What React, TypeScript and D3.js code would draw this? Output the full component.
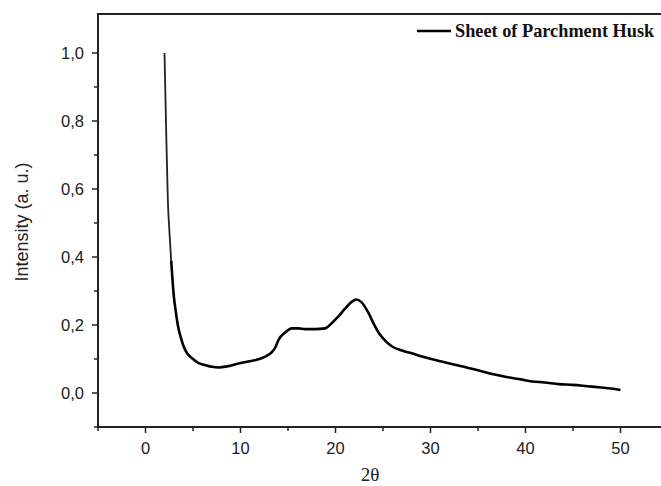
import React from "react";
import * as d3 from "d3";

const twoTheta = [2.0, 2.1, 2.17, 2.35, 2.55, 2.7, 2.85, 3.0, 3.16, 3.4, 3.7, 4.03, 4.35, 4.9, 5.6, 6.3, 7.0, 7.7, 8.7, 9.8, 10.7, 11.6, 12.6, 13.3, 13.7, 14.0, 14.7, 15.4, 16.1, 16.8, 17.8, 18.9, 19.6, 20.3, 21.0, 21.7, 22.2, 22.7, 23.5, 24.0, 24.6, 25.3, 26.0, 27.0, 28.1, 29.3, 30.5, 32.0, 33.5, 35.0, 36.5, 38.0, 39.5, 40.7, 42.0, 43.5, 45.0, 46.5, 48.0, 49.0, 50.0];
const intensity = [1.0, 0.87, 0.78, 0.57, 0.46, 0.39, 0.33, 0.28, 0.245, 0.2, 0.165, 0.136, 0.118, 0.102, 0.088, 0.082, 0.077, 0.075, 0.079, 0.087, 0.092, 0.097, 0.107, 0.12, 0.136, 0.156, 0.178, 0.19, 0.19, 0.188, 0.188, 0.19, 0.205, 0.225, 0.248, 0.268, 0.275, 0.268, 0.234, 0.205, 0.175, 0.152, 0.136, 0.125, 0.116, 0.106, 0.097, 0.087, 0.077, 0.067, 0.056, 0.047, 0.04, 0.034, 0.031, 0.026, 0.024, 0.02, 0.016, 0.013, 0.009];

const xTicks = [0, 10, 20, 30, 40, 50];
const xMinor = [-5, 5, 15, 25, 35, 45];
const yTicks = [0, 0.2, 0.4, 0.6, 0.8, 1.0];
const yMinor = [-0.1, 0.1, 0.3, 0.5, 0.7, 0.9];
const seriesName = "Sheet of Parchment Husk";

export default function App() {
  const W = 661, H = 486;
  const left = 98, top = 14, bottom = 427;
  const x = d3.scaleLinear().domain([-5, 55]).range([left, left + 60 * 9.5]);
  const y = d3.scaleLinear().domain([-0.1, 1.1147]).range([bottom, top]);
  const pts = twoTheta.map((t, i) => [t, intensity[i]] as [number, number]);
  const line = d3.line<[number, number]>().x(d => x(d[0])).y(d => y(d[1])).curve(d3.curveMonotoneX);
  const split = 5;
  const fmt = (v: number) => v.toFixed(1).replace(".", ",");
  const sans = "'Liberation Sans', Arial, sans-serif";
  const serif = "'Liberation Serif', 'Times New Roman', serif";
  return (
    <svg width={W} height={H} style={{ position: "absolute", left: 0, top: 0, background: "#fff" }}>
      <rect x={0} y={0} width={W} height={H} fill="#fff" />
      <path d={line(pts.slice(0, split + 1)) || ""} fill="none" stroke="#222" strokeWidth={1.8} strokeLinejoin="round" />
      <path d={line(pts.slice(split)) || ""} fill="none" stroke="#000" strokeWidth={2.6} strokeLinejoin="round" />
      {/* axes */}
      <line x1={left} x2={W} y1={top} y2={top} stroke="#222" strokeWidth={2} />
      <line x1={left} x2={left} y1={top - 1} y2={bottom + 1} stroke="#222" strokeWidth={2} />
      <line x1={left - 1} x2={W} y1={bottom} y2={bottom} stroke="#222" strokeWidth={2} />
      {xTicks.map(t => (
        <g key={"x" + t}>
          <line x1={x(t)} x2={x(t)} y1={bottom} y2={bottom + 6} stroke="#222" strokeWidth={1.5} />
          <text x={x(t)} y={bottom + 27} textAnchor="middle" fontFamily={sans} fontSize={16.5} fill="#222">{t}</text>
        </g>
      ))}
      {xMinor.map(t => (
        <line key={"xm" + t} x1={x(t)} x2={x(t)} y1={bottom} y2={bottom + 4} stroke="#222" strokeWidth={1.5} />
      ))}
      {yTicks.map(t => (
        <g key={"y" + t}>
          <line x1={left} x2={left - 6} y1={y(t)} y2={y(t)} stroke="#222" strokeWidth={1.5} />
          <text x={left - 14} y={y(t) + 6} textAnchor="end" fontFamily={sans} fontSize={16.5} fill="#222">{fmt(t)}</text>
        </g>
      ))}
      {yMinor.map(t => (
        <line key={"ym" + t} x1={left} x2={left - 4} y1={y(t)} y2={y(t)} stroke="#222" strokeWidth={1.5} />
      ))}
      <text transform={`translate(28,222) rotate(-90)`} textAnchor="middle" fontFamily={sans} fontSize={18} fill="#222">Intensity (a. u.)</text>
      <text x={370} y={481} textAnchor="middle" fontFamily={serif} fontSize={19} fill="#222">2θ</text>
      {/* legend */}
      <line x1={417} x2={451} y1={31} y2={31} stroke="#000" strokeWidth={2.5} />
      <text x={455} y={37} fontFamily={serif} fontWeight="bold" fontSize={18.3} fill="#111">{seriesName}</text>
    </svg>
  );
}
